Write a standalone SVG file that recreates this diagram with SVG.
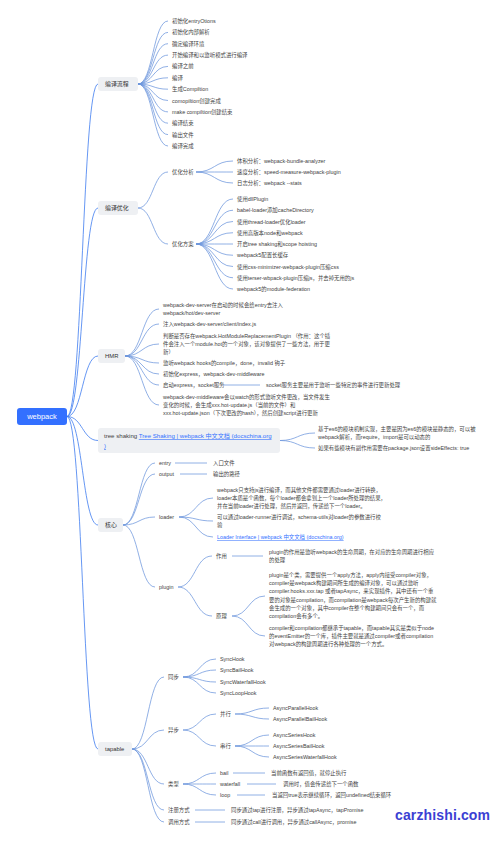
<svg xmlns="http://www.w3.org/2000/svg" width="500" height="844" viewBox="0 0 500 844">
<style>
text{font-family:"Liberation Sans","Noto Sans CJK SC",sans-serif;font-size:5.4px;fill:#424242}
.l1{font-size:5.9px;fill:#333}
.lk{fill:#3370ff;text-decoration:underline}
.box{fill:#eef0f3}
.c0{fill:none;stroke:#3f7cf0;stroke-width:0.8}
.c1{fill:none;stroke:#6c95dc;stroke-width:0.75}
.wm{font-family:"Liberation Sans",sans-serif;font-weight:bold;font-size:14px;fill:#3b3fd3}
</style>
<rect width="500" height="844" fill="#fff"/>
<g id="connectors">
<path class="c0" d="M67 416.5C82.5 416.5 82.5 84 98 84M67 416.5C82.5 416.5 82.5 208 98 208M67 416.5C82.5 416.5 82.5 356 98 356M67 416.5C82.5 416.5 82.5 440.5 98 440.5M67 416.5C82.5 416.5 82.5 525 98 525M67 416.5C82.5 416.5 82.5 749 98 749"/>
<path class="c1" d="M138 84C153 84 153 21 168 21M138 84C153 84 153 32.4 168 32.4M138 84C153 84 153 43.7 168 43.7M138 84C153 84 153 55.1 168 55.1M138 84C153 84 153 66.4 168 66.4M138 84C153 84 153 77.8 168 77.8M138 84C153 84 153 89.2 168 89.2M138 84C153 84 153 100.5 168 100.5M138 84C153 84 153 111.9 168 111.9M138 84C153 84 153 123.2 168 123.2M138 84C153 84 153 134.6 168 134.6M138 84C153 84 153 146 168 146"/>
<path class="c1" d="M138 208C153 208 153 172 168 172M138 208C153 208 153 244 168 244"/>
<path class="c1" d="M196 172C214.5 172 214.5 161 233 161M196 172C214.5 172 214.5 172 233 172M196 172C214.5 172 214.5 183 233 183"/>
<path class="c1" d="M196 244C214.5 244 214.5 199 233 199M196 244C214.5 244 214.5 210.25 233 210.25M196 244C214.5 244 214.5 221.5 233 221.5M196 244C214.5 244 214.5 232.75 233 232.75M196 244C214.5 244 214.5 244 233 244M196 244C214.5 244 214.5 255.25 233 255.25M196 244C214.5 244 214.5 266.5 233 266.5M196 244C214.5 244 214.5 277.75 233 277.75M196 244C214.5 244 214.5 289 233 289"/>
<path class="c1" d="M125 356C142 356 142 309 159 309M125 356C142 356 142 324 159 324M125 356C142 356 142 344 159 344M125 356C142 356 142 363 159 363M125 356C142 356 142 374 159 374M125 356C142 356 142 385 159 385M125 356C142 356 142 405 159 405M223 385H260"/>
<path class="c1" d="M280 440.5C297.5 440.5 297.5 433 315 433M280 440.5C297.5 440.5 297.5 448 315 448"/>
<path class="c1" d="M123 525C139 525 139 463 155 463M123 525C139 525 139 474 155 474M123 525C139 525 139 517 155 517M123 525C139 525 139 587 155 587M175 463H207M180 474H207"/>
<path class="c1" d="M179 517C196 517 196 498 213 498M179 517C196 517 196 521 213 521M179 517C196 517 196 537 213 537"/>
<path class="c1" d="M178 587C195 587 195 556 212 556M178 587C195 587 195 616 212 616M232 556H263"/>
<path class="c1" d="M232 616C248.5 616 248.5 596 265 596M232 616C248.5 616 248.5 636 265 636"/>
<path class="c1" d="M132 749C148 749 148 677 164 677M132 749C148 749 148 730 164 730M132 749C148 749 148 784 164 784M132 749C148 749 148 810 164 810M132 749C148 749 148 822 164 822"/>
<path class="c1" d="M183 677C199.5 677 199.5 659 216 659M183 677C199.5 677 199.5 670 216 670M183 677C199.5 677 199.5 682 216 682M183 677C199.5 677 199.5 693 216 693"/>
<path class="c1" d="M183 730C199.5 730 199.5 714 216 714M183 730C199.5 730 199.5 746 216 746"/>
<path class="c1" d="M235 714C252 714 252 708 269 708M235 714C252 714 252 719 269 719M235 746C252 746 252 735 269 735M235 746C252 746 252 746 269 746M235 746C252 746 252 757 269 757"/>
<path class="c1" d="M183 784C199.5 784 199.5 773 216 773M183 784C199.5 784 199.5 784 216 784M183 784C199.5 784 199.5 795 216 795M233 773H265M247 784H276M237 795H265M195 810H225M195 822H225"/>
</g>
<g id="root"><rect x="17" y="408" width="50" height="17" rx="3" fill="#3370ff"/><text x="42" y="419.2" text-anchor="middle" style="font-size:7.5px;fill:#fff">webpack</text></g>
<g id="n-compile-flow"><rect class="box" x="98" y="77" width="40" height="14" rx="3"/><text class="l1" x="105" y="86.1">编译流程</text>
<text x="172" y="23">初始化entryOtions</text><text x="172" y="34.4">初始化内部解析</text><text x="172" y="45.7">确定编译环境</text><text x="172" y="57.1">开始编译和以监听模式进行编译</text><text x="172" y="68.4">编译之前</text><text x="172" y="79.8">编译</text><text x="172" y="91.2">生成Compiltion</text><text x="172" y="102.5">comopiltion创建完成</text><text x="172" y="113.9">make compiltion创建结束</text><text x="172" y="125.2">编译结束</text><text x="172" y="136.6">输出文件</text><text x="172" y="148">编译完成</text></g>
<g id="n-compile-opt"><rect class="box" x="98" y="201" width="40" height="14" rx="3"/><text class="l1" x="105" y="210.1">编译优化</text>
<text x="172" y="174">优化分析</text><text x="237" y="163">体积分析：webpack-bundle-analyzer</text><text x="237" y="174">速度分析：speed-measure-webpack-plugin</text><text x="237" y="185">日志分析：webpack --stats</text>
<text x="172" y="246">优化方案</text><text x="237" y="201">使用dllPlugin</text><text x="237" y="212.25">babel-loader添加cacheDirectory</text><text x="237" y="223.5">使用thread-loader优化loader</text><text x="237" y="234.75">使用高版本node和webpack</text><text x="237" y="246">开启tree shaking和scope hoisting</text><text x="237" y="257.25">webpack5配置长缓存</text><text x="237" y="268.5">使用css-minimizer-webpack-plugin压缩css</text><text x="237" y="279.75">使用terser-wbpack-plugin压缩js，并去掉无用的js</text><text x="237" y="291">webpack5的module-federation</text></g>
<g id="n-hmr"><rect class="box" x="98" y="349" width="27" height="14" rx="3"/><text class="l1" x="105" y="358.1">HMR</text>
<text x="163" y="307">webpack-dev-server在启动的时候会给entry去注入</text><text x="163" y="315">webpack/hot/dev-server</text>
<text x="163" y="326">注入webpack-dev-server/client/index.js</text>
<text x="163" y="338">判断是否存在webpack.HotModuleReplacementPlugin （作用：这个插</text><text x="163" y="346">件会注入一个module.hot的一个对象，该对象提供了一些方法，用于更</text><text x="163" y="354">新）</text>
<text x="163" y="365">监听webpack hooks的compile，done，invalid 钩子</text>
<text x="163" y="376">初始化express，webpack-dev-middleware</text>
<text x="163" y="387">启动express，socket服务</text><text x="266" y="387">socket服务主要是用于监听一些特定的事件进行更新处理</text>
<text x="163" y="399">webpack-dev-middleware会以watch的形式监听文件更改，当文件发生</text><text x="163" y="407">变化的时候，会生成xxx.hot-update.js（当前的文件）和</text><text x="163" y="415">xxx.hot-update.json（下次更改的hash），然后创建script进行更新</text></g>
<g id="n-tree-shaking"><rect class="box" x="98" y="428" width="182" height="25" rx="3"/><text x="104" y="438" style="font-size:6.1px">tree shaking <tspan class="lk">Tree Shaking | webpack 中文文档 (docschina.org</tspan></text><text class="lk" x="104" y="448" style="font-size:6.1px">)</text>
<text x="318" y="431">基于es6的模块机制实现，主要是因为es6的模块是静态的，可以被</text><text x="318" y="439">webpack解析，而require，import是可以动态的</text>
<text x="318" y="450">如果有些模块有副作用需要在package.json设置sideEffects: true</text></g>
<g id="n-core"><rect class="box" x="98" y="518" width="25" height="14" rx="3"/><text class="l1" x="105" y="527.1">核心</text>
<text x="159" y="465">entry</text><text x="213" y="465">入口文件</text>
<text x="159" y="476">output</text><text x="213" y="476">输出的路径</text>
<text x="159" y="519">loader</text>
<text x="217" y="492">webpack只支持js进行编译，而其他文件都需要通过loader进行转换，</text><text x="217" y="500">loader本质是个函数，每个loader都会拿到上一个loader所处理的结果，</text><text x="217" y="508">并在当前loader进行处理，然后并返回，传递给下一个loader。</text>
<text x="217" y="519">可以通过loader-runner进行调试，schema-utils对loader的参数进行校</text><text x="217" y="527">验</text>
<text class="lk" x="217" y="539">Loader Interface | webpack 中文文档 (docschina.org)</text>
<text x="159" y="589">plugin</text>
<text x="216" y="558">作用</text><text x="269" y="554">plugin的作用是监听webpack的生命周期，在对应的生命周期进行相应</text><text x="269" y="562">的处理</text>
<text x="216" y="618">原理</text>
<text x="269" y="577">plugin是个类，需要提供一个apply方法，apply内接受compiler对象，</text><text x="269" y="585.2">compiler是webpack构建期间所生成的编译对象，可以通过监听</text><text x="269" y="593.4">compiler.hooks.xxx.tap 或者tapAsync，来实现插件，其中还有一个重</text><text x="269" y="601.6">要的对象是compilation，而compilation是webpack每次产生新的构建就</text><text x="269" y="609.8">会生成的一个对象，其中compiler在整个构建期间只会有一个，而</text><text x="269" y="618">compilation会有多个。</text>
<text x="269" y="630">compiler和compilation都继承于tapable，而tapable其实是类似于node</text><text x="269" y="638">的eventEmitter的一个库，插件主要就是通过compiler或者compilation</text><text x="269" y="646">对webpack的构建周期进行各种处理的一个方式。</text></g>
<g id="n-tapable"><rect class="box" x="98" y="742" width="34" height="14" rx="3"/><text class="l1" x="105" y="751.1">tapable</text>
<text x="168" y="679">同步</text><text x="220" y="661">SyncHook</text><text x="220" y="672">SyncBailHook</text><text x="220" y="684">SyncWaterfallHook</text><text x="220" y="695">SyncLoopHook</text>
<text x="168" y="732">异步</text><text x="220" y="716">并行</text><text x="273" y="710">AsyncParallelHook</text><text x="273" y="721">AsyncParallelBailHook</text>
<text x="220" y="748">串行</text><text x="273" y="737">AsyncSeriesHook</text><text x="273" y="748">AsyncSeriesBailHook</text><text x="273" y="759">AsyncSeriesWaterfallHook</text>
<text x="168" y="786">类型</text><text x="220" y="775">bail</text><text x="271" y="775">当前函数有返回值，就停止执行</text><text x="220" y="786">waterfall</text><text x="283" y="786">调用时，值会传递给下一个函数</text><text x="220" y="797">loop</text><text x="272" y="797">当返回true表示继续循环，返回undefined结束循环</text>
<text x="168" y="812">注册方式</text><text x="231" y="812">同步通过tap进行注册，异步通过tapAsync，tapPromise</text>
<text x="168" y="824">调用方式</text><text x="231" y="824">同步通过call进行调用，异步通过callAsync，promise</text></g>
<g id="watermark"><text class="wm" x="395" y="820" textLength="95">carzhishi.com</text></g>
</svg>
